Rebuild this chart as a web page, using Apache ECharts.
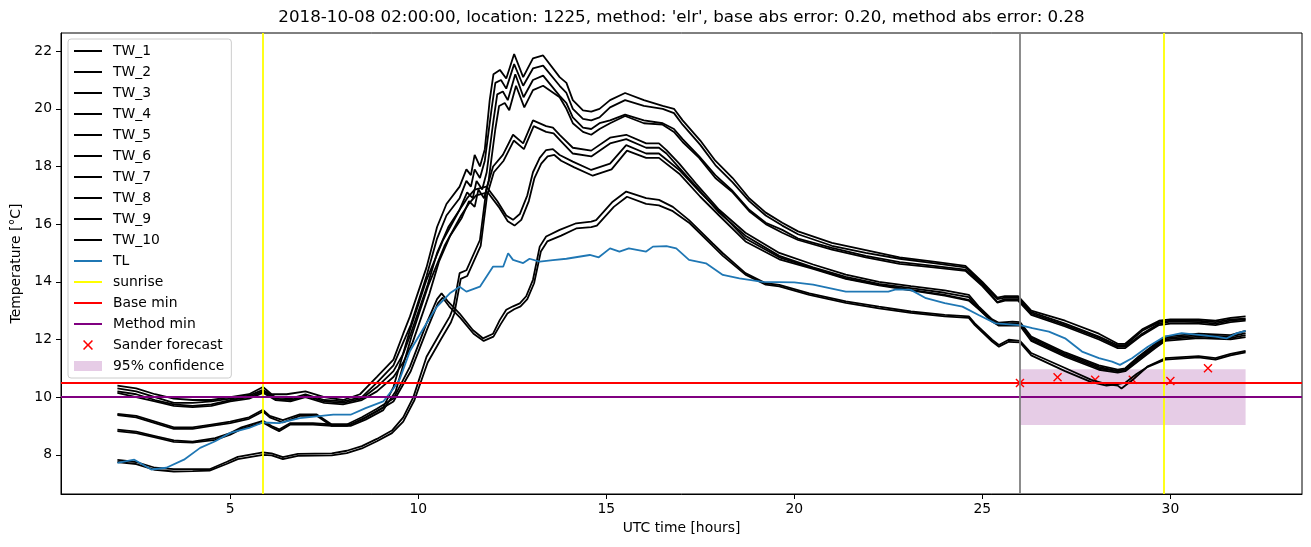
<!DOCTYPE html>
<html>
<head>
<meta charset="utf-8">
<script src="https://cdn.jsdelivr.net/npm/echarts@6/dist/echarts.min.js"></script>
<style>
  html, body { margin: 0; padding: 0; background: #fff; }
  #chart { width: 1311px; height: 547px; }
</style>
</head>
<body>
<div id="chart"></div>
<script>
// ---- data: [hour, temperature] ----
const tw1 = [[2,10.4],[2.5,10.3],[3,10.1],[3.5,9.95],[4,9.9],[4.5,9.9],[5,10.0],[5.5,10.1],[5.87,10.35],[6.1,10.1],[6.5,10.1],[7,10.2],[7.5,10.0],[8,9.9],[8.45,10.1],[8.9,10.7],[9.34,11.3],[9.6,12.2],[9.78,12.8],[10.22,14.5],[10.5,15.9],[10.75,16.7],[11.1,17.3],[11.28,17.9],[11.4,17.7],[11.5,18.4],[11.64,18.0],[11.77,18.6],[11.9,20.3],[12.0,21.2],[12.17,21.35],[12.34,21.05],[12.55,21.9],[12.79,21.1],[13.05,21.75],[13.32,21.85],[13.76,21.1],[13.94,20.9],[14.11,20.3],[14.38,19.95],[14.6,19.9],[14.82,20.0],[15.1,20.3],[15.5,20.55],[16.0,20.3],[16.5,20.1],[16.8,20.0],[17.03,19.6],[17.5,18.9],[17.9,18.2],[18.36,17.6],[18.8,16.9],[19.24,16.4],[19.68,16.05],[20.1,15.75],[21.0,15.35],[21.9,15.1],[22.8,14.85],[23.7,14.7],[24.55,14.55],[25.0,14.0],[25.4,13.45],[25.6,13.5],[25.95,13.5],[26.3,13.0],[27.2,12.65],[28.1,12.2],[28.6,11.85],[28.8,11.85],[29.25,12.35],[29.7,12.65],[30.0,12.7],[30.75,12.7],[31.2,12.65],[31.6,12.75],[32,12.8]];
const tw2 = [[2,10.3],[2.5,10.2],[3,10.0],[3.5,9.8],[4,9.8],[4.5,9.85],[5,9.95],[5.5,10.05],[5.87,10.25],[6.2,10.0],[6.6,9.95],[7,10.1],[7.5,9.9],[8,9.85],[8.5,10.0],[8.9,10.5],[9.34,11.1],[9.6,11.9],[9.8,12.5],[10.22,14.2],[10.5,15.5],[10.75,16.3],[11.1,16.9],[11.28,17.5],[11.4,17.3],[11.5,17.9],[11.64,17.6],[11.77,18.2],[11.95,20.0],[12.05,20.9],[12.2,21.0],[12.34,20.7],[12.55,21.55],[12.79,20.8],[13.05,21.4],[13.32,21.5],[13.76,20.8],[13.94,20.55],[14.11,20.0],[14.38,19.65],[14.6,19.6],[14.82,19.7],[15.1,20.05],[15.5,20.3],[16.0,20.1],[16.5,20.0],[16.8,19.85],[17.03,19.45],[17.5,18.75],[17.9,18.05],[18.36,17.45],[18.8,16.8],[19.24,16.3],[19.68,15.95],[20.1,15.65],[21.0,15.25],[21.9,15.0],[22.8,14.8],[23.7,14.65],[24.55,14.5],[25.0,13.95],[25.4,13.4],[25.6,13.45],[25.95,13.45],[26.3,12.95],[27.2,12.55],[28.1,12.1],[28.6,11.8],[28.8,11.8],[29.25,12.3],[29.7,12.6],[30.0,12.65],[30.75,12.65],[31.2,12.6],[31.6,12.7],[32,12.72]];
const tw3 = [[2,10.2],[2.5,10.1],[3,9.9],[3.5,9.75],[4,9.7],[4.5,9.75],[5,9.9],[5.5,10.0],[5.87,10.2],[6.2,9.95],[6.6,9.9],[7,10.05],[7.5,9.85],[8,9.8],[8.5,9.95],[8.9,10.35],[9.34,10.9],[9.6,11.5],[9.8,12.2],[10.25,13.9],[10.5,15.0],[10.8,15.9],[11.1,16.5],[11.3,17.1],[11.45,16.9],[11.55,17.5],[11.7,17.2],[11.82,17.8],[12.0,19.6],[12.1,20.5],[12.25,20.6],[12.38,20.3],[12.58,21.2],[12.8,20.4],[13.05,21.0],[13.32,21.15],[13.76,20.45],[13.94,20.2],[14.11,19.7],[14.38,19.35],[14.6,19.3],[14.82,19.5],[15.1,19.6],[15.5,19.8],[16.0,19.6],[16.5,19.5],[16.8,19.3],[17.03,18.95],[17.47,18.35],[17.9,17.7],[18.36,17.15],[18.8,16.5],[19.24,16.05],[19.68,15.8],[20.1,15.5],[21.0,15.18],[21.9,14.9],[22.8,14.68],[23.7,14.55],[24.55,14.42],[25.0,13.9],[25.4,13.3],[25.6,13.4],[25.95,13.4],[26.3,12.9],[27.2,12.5],[28.1,12.05],[28.6,11.75],[28.8,11.75],[29.25,12.2],[29.7,12.55],[30.0,12.62],[30.75,12.6],[31.2,12.55],[31.6,12.65],[32,12.7]];
const tw4 = [[2,10.15],[2.5,10.0],[3,9.85],[3.5,9.7],[4,9.65],[4.5,9.7],[5,9.85],[5.5,9.95],[5.87,10.15],[6.2,9.9],[6.6,9.85],[7,10.0],[7.5,9.8],[8,9.75],[8.5,9.9],[8.9,10.2],[9.34,10.7],[9.6,11.2],[9.85,11.9],[10.3,13.6],[10.55,14.7],[10.85,15.6],[11.15,16.2],[11.35,16.8],[11.5,16.6],[11.6,17.2],[11.75,16.9],[11.87,17.5],[12.05,19.3],[12.15,20.1],[12.3,20.2],[12.42,19.95],[12.6,20.8],[12.82,20.05],[13.05,20.65],[13.32,20.8],[13.76,20.4],[13.94,20.0],[14.11,19.5],[14.38,19.2],[14.6,19.1],[14.82,19.3],[15.1,19.5],[15.5,19.75],[16.0,19.5],[16.5,19.45],[16.8,19.2],[17.03,18.85],[17.47,18.3],[17.9,17.6],[18.36,17.1],[18.8,16.45],[19.24,16.0],[19.68,15.7],[20.1,15.45],[21.0,15.12],[21.9,14.85],[22.8,14.62],[23.7,14.5],[24.55,14.38],[25.0,13.85],[25.4,13.28],[25.6,13.35],[25.95,13.35],[26.3,12.85],[27.2,12.45],[28.1,12.0],[28.6,11.7],[28.8,11.7],[29.25,12.15],[29.7,12.5],[30.0,12.55],[30.75,12.55],[31.2,12.5],[31.6,12.6],[32,12.65]];
const tw5 = [[2,9.42],[2.5,9.35],[3,9.15],[3.5,8.95],[4,8.95],[4.5,9.05],[5,9.15],[5.5,9.3],[5.87,9.56],[6.05,9.35],[6.4,9.2],[6.85,9.4],[7.3,9.4],[7.7,9.05],[8.2,9.05],[8.6,9.3],[9.07,9.65],[9.34,10.35],[9.78,12.33],[10.22,14.07],[10.66,15.45],[11.1,16.5],[11.3,16.9],[11.5,17.2],[11.81,17.3],[12.1,16.8],[12.34,16.3],[12.52,16.15],[12.7,16.35],[12.9,17.0],[13.05,17.8],[13.23,18.3],[13.4,18.57],[13.58,18.6],[13.76,18.4],[14.11,18.17],[14.6,17.88],[15.1,18.1],[15.53,18.74],[16.06,18.45],[16.4,18.45],[16.94,17.88],[17.5,17.1],[18.0,16.45],[18.7,15.5],[19.6,14.85],[20.5,14.47],[21.37,14.12],[22.25,13.9],[23.1,13.72],[24.0,13.55],[24.64,13.37],[24.9,13.1],[25.26,12.65],[25.44,12.5],[25.8,12.5],[26.0,12.5],[26.3,12.0],[27.2,11.45],[28.1,11.0],[28.6,10.9],[28.8,10.95],[29.15,11.3],[29.6,11.75],[29.86,12.0],[30.75,12.1],[31.6,12.05],[32,12.15]];
const tw6 = [[2,9.38],[2.5,9.3],[3,9.1],[3.5,8.9],[4,8.9],[4.5,9.0],[5,9.1],[5.5,9.25],[5.87,9.5],[6.05,9.3],[6.4,9.12],[6.85,9.35],[7.3,9.35],[7.7,9.0],[8.2,9.0],[8.6,9.22],[9.07,9.55],[9.4,10.2],[9.82,12.1],[10.26,13.85],[10.7,15.25],[11.14,16.3],[11.34,16.7],[11.54,17.0],[11.85,17.1],[12.14,16.6],[12.38,16.1],[12.56,15.95],[12.74,16.15],[12.94,16.8],[13.09,17.6],[13.27,18.1],[13.44,18.35],[13.62,18.4],[13.8,18.2],[14.15,17.97],[14.64,17.68],[15.14,17.9],[15.55,18.55],[16.06,18.3],[16.4,18.3],[16.94,17.75],[17.5,16.95],[18.0,16.3],[18.7,15.4],[19.6,14.78],[20.5,14.45],[21.37,14.1],[22.25,13.88],[23.1,13.7],[24.0,13.52],[24.64,13.35],[24.9,13.05],[25.26,12.62],[25.44,12.48],[25.8,12.48],[26.0,12.48],[26.3,11.95],[27.2,11.4],[28.1,10.95],[28.6,10.85],[28.8,10.9],[29.15,11.25],[29.6,11.7],[29.86,11.95],[30.75,12.05],[31.6,12.0],[32,12.08]];
const tw7 = [[2,8.87],[2.5,8.8],[3,8.65],[3.5,8.5],[4,8.46],[4.6,8.58],[5.0,8.75],[5.3,8.95],[5.87,9.18],[6.1,9.0],[6.3,8.88],[6.6,9.1],[7.2,9.1],[7.7,9.05],[8.1,9.05],[8.5,9.3],[8.9,9.6],[9.34,9.95],[9.78,11.06],[10.22,12.56],[10.5,13.4],[10.62,13.6],[10.8,13.3],[11.1,12.9],[11.45,12.33],[11.72,12.04],[11.99,12.2],[12.17,12.68],[12.34,13.03],[12.52,13.15],[12.7,13.25],[12.87,13.5],[13.05,14.07],[13.23,15.22],[13.4,15.57],[13.76,15.8],[14.2,16.03],[14.6,16.09],[14.73,16.14],[15.17,16.78],[15.53,17.13],[16.06,16.9],[16.4,16.84],[16.77,16.6],[17.2,16.14],[17.83,15.33],[18.1,14.99],[18.7,14.3],[19.24,13.95],[19.6,13.89],[20.4,13.6],[21.37,13.32],[22.25,13.14],[23.1,12.97],[24.0,12.85],[24.64,12.8],[24.8,12.56],[25.26,11.99],[25.44,11.81],[25.7,11.99],[26.0,11.95],[26.3,11.53],[27.2,11.01],[27.9,10.6],[28.3,10.45],[28.6,10.4],[28.7,10.3],[29.0,10.6],[29.4,11.07],[29.86,11.35],[30.75,11.42],[31.2,11.35],[31.6,11.5],[32,11.6]];
const tw8 = [[2,8.82],[2.5,8.75],[3,8.6],[3.5,8.45],[4,8.42],[4.6,8.52],[5.0,8.7],[5.3,8.9],[5.87,9.12],[6.1,8.95],[6.3,8.82],[6.6,9.05],[7.2,9.05],[7.7,9.0],[8.1,9.0],[8.5,9.22],[8.9,9.5],[9.34,9.85],[9.8,10.9],[10.25,12.4],[10.52,13.25],[10.65,13.45],[10.82,13.15],[11.12,12.75],[11.47,12.2],[11.74,11.95],[12.0,12.1],[12.2,12.55],[12.37,12.9],[12.55,13.05],[12.72,13.15],[12.9,13.4],[13.08,13.95],[13.26,15.05],[13.43,15.4],[13.8,15.6],[14.2,15.85],[14.6,15.9],[14.75,15.95],[15.2,16.6],[15.55,16.95],[16.06,16.7],[16.4,16.65],[16.77,16.45],[17.2,16.05],[17.83,15.25],[18.1,14.9],[18.7,14.25],[19.24,13.9],[19.6,13.84],[20.4,13.55],[21.37,13.27],[22.25,13.08],[23.1,12.92],[24.0,12.8],[24.64,12.75],[24.8,12.5],[25.26,11.93],[25.44,11.75],[25.7,11.92],[26.0,11.9],[26.3,11.45],[27.2,10.9],[27.9,10.52],[28.3,10.4],[28.6,10.45],[28.8,10.5],[29.1,10.8],[29.4,11.05],[29.86,11.3],[30.75,11.38],[31.2,11.3],[31.6,11.45],[32,11.55]];
const tw9 = [[2,7.82],[2.5,7.75],[3,7.55],[3.5,7.5],[4,7.5],[4.45,7.5],[4.9,7.75],[5.2,7.93],[5.87,8.08],[6.1,8.05],[6.4,7.92],[6.8,8.03],[7.7,8.05],[8.1,8.14],[8.5,8.3],[8.9,8.55],[9.3,8.84],[9.6,9.3],[9.87,10.0],[10.22,11.4],[10.57,12.2],[10.84,12.8],[10.93,13.1],[11.1,14.3],[11.28,14.4],[11.64,15.45],[11.81,17.2],[11.99,18.0],[12.25,18.4],[12.52,19.1],[12.79,18.8],[13.05,19.6],[13.4,19.4],[13.58,19.35],[13.76,19.1],[14.11,18.65],[14.6,18.55],[15.1,19.0],[15.53,19.1],[16.06,18.8],[16.4,18.8],[16.6,18.57],[16.94,18.1],[17.39,17.4],[18.0,16.5],[18.7,15.7],[19.6,15.0],[20.5,14.6],[21.37,14.25],[22.25,14.0],[23.1,13.85],[24.0,13.7],[24.64,13.55],[24.9,13.15],[25.26,12.7],[25.44,12.58],[25.8,12.62],[26.0,12.6],[26.3,12.1],[27.2,11.55],[28.1,11.1],[28.6,10.95],[28.8,11.0],[29.15,11.4],[29.6,11.85],[29.86,12.1],[30.75,12.2],[31.6,12.15],[32,12.3]];
const tw10 = [[2,7.75],[2.5,7.68],[3,7.48],[3.5,7.42],[4,7.43],[4.45,7.45],[4.9,7.68],[5.2,7.85],[5.87,8.0],[6.1,7.98],[6.4,7.85],[6.8,7.96],[7.7,7.98],[8.1,8.06],[8.5,8.22],[8.9,8.47],[9.3,8.75],[9.6,9.15],[9.9,9.9],[10.25,11.2],[10.6,12.0],[10.87,12.6],[10.96,12.9],[11.13,14.1],[11.3,14.2],[11.66,15.25],[11.83,17.0],[12.01,17.8],[12.27,18.2],[12.54,18.9],[12.81,18.6],[13.07,19.4],[13.4,19.2],[13.6,19.15],[13.78,18.9],[14.11,18.45],[14.6,18.35],[15.1,18.8],[15.53,18.95],[16.06,18.65],[16.4,18.65],[16.6,18.45],[16.94,17.95],[17.39,17.3],[18.0,16.4],[18.7,15.6],[19.6,14.9],[20.5,14.5],[21.37,14.17],[22.25,13.93],[23.1,13.78],[24.0,13.62],[24.64,13.47],[24.9,13.08],[25.26,12.63],[25.44,12.52],[25.8,12.56],[26.0,12.55],[26.3,12.05],[27.2,11.5],[28.1,11.05],[28.6,10.9],[28.8,10.95],[29.15,11.35],[29.6,11.8],[29.86,12.05],[30.75,12.15],[31.6,12.1],[32,12.22]];
const tl = [[2,7.72],[2.45,7.83],[2.9,7.49],[3.3,7.55],[3.77,7.83],[4.2,8.24],[4.6,8.47],[5.0,8.76],[5.5,8.93],[5.87,9.12],[6.3,9.1],[6.85,9.27],[7.74,9.39],[8.2,9.39],[8.6,9.62],[9.07,9.85],[9.34,10.3],[9.5,10.6],[9.78,11.6],[10.22,12.56],[10.5,13.14],[10.84,13.6],[11.1,13.83],[11.28,13.66],[11.64,13.83],[11.99,14.53],[12.26,14.53],[12.39,14.99],[12.52,14.76],[12.79,14.65],[12.96,14.8],[13.23,14.7],[13.58,14.75],[13.94,14.8],[14.56,14.93],[14.8,14.85],[15.1,15.16],[15.35,15.05],[15.6,15.16],[16.06,15.05],[16.24,15.22],[16.6,15.24],[16.86,15.16],[17.2,14.76],[17.65,14.64],[18.1,14.24],[18.54,14.12],[19.16,14.0],[20.0,13.98],[20.5,13.9],[21.37,13.66],[22.5,13.66],[22.7,13.74],[23.1,13.72],[23.5,13.43],[24.0,13.26],[24.47,13.14],[24.9,12.85],[25.35,12.56],[26.0,12.5],[26.33,12.39],[26.77,12.27],[27.2,12.04],[27.65,11.58],[28.1,11.35],[28.45,11.23],[28.66,11.12],[28.98,11.35],[29.4,11.75],[29.85,12.1],[30.3,12.22],[30.75,12.16],[31.2,12.1],[31.5,12.04],[31.77,12.22],[32,12.3]];

const twNames = ['TW_1','TW_2','TW_3','TW_4','TW_5','TW_6','TW_7','TW_8','TW_9','TW_10'];
const twSeries = [tw1, tw2, tw3, tw4, tw5, tw6, tw7, tw8, tw9, tw10];

const sunriseHours = [5.87, 29.83];
const baseMin = 10.5;
const methodMin = 10.0;
const nowHour = 26;
const forecastHours = [26, 27, 28, 29, 30, 31];
const forecastValues = [10.49, 10.69, 10.6, 10.6, 10.56, 11.0];
const confidenceBox = [26, 32, 9.03, 10.97]; // x0, x1, y0, y1

const xTicks = [5, 10, 15, 20, 25, 30];
const yTicks = [8, 10, 12, 14, 16, 18, 20, 22];

const titleText = "2018-10-08 02:00:00, location: 1225, method: 'elr', base abs error: 0.20, method abs error: 0.28";

// ---- chart ----
const FONT = 'DejaVu Sans';
const xMark = 'path://M0,1.1 L1.1,0 L5,3.9 L8.9,0 L10,1.1 L6.1,5 L10,8.9 L8.9,10 L5,6.1 L1.1,10 L0,8.9 L3.9,5 Z';

const chart = echarts.init(document.getElementById('chart'), null, { renderer: 'canvas' });

const series = [];
twSeries.forEach(function (d, i) {
    series.push({
        name: twNames[i],
        type: 'line',
        data: d,
        symbol: 'none',
        lineStyle: { color: '#000', width: 1.8 },
        itemStyle: { color: '#000' }
    });
});
series.push({
    name: 'TL',
    type: 'line',
    data: tl,
    symbol: 'none',
    lineStyle: { color: '#1f77b4', width: 1.8 },
    itemStyle: { color: '#1f77b4' }
});
series.push({
    name: '95% confidence',
    type: 'custom',
    data: [confidenceBox],
    encode: { x: [0, 1], y: [2, 3] },
    itemStyle: { color: 'rgba(128,0,128,0.2)' },
    renderItem: function (params, api) {
        const p0 = api.coord([api.value(0), api.value(3)]);
        const p1 = api.coord([api.value(1), api.value(2)]);
        return {
            type: 'rect',
            shape: { x: p0[0], y: p0[1], width: p1[0] - p0[0], height: p1[1] - p0[1] },
            style: { fill: 'rgba(128,0,128,0.2)' }
        };
    }
});
function refLine(name, color, lines) {
    return {
        name: name,
        type: 'line',
        data: [],
        symbol: 'none',
        lineStyle: { color: color, width: 1.8 },
        itemStyle: { color: color },
        markLine: {
            silent: true,
            symbol: ['none', 'none'],
            label: { show: false },
            lineStyle: { color: color, width: 1.8, type: 'solid' },
            data: lines
        }
    };
}
series.push(refLine('sunrise', '#ffff00', sunriseHours.map(function (h) { return { xAxis: h }; })));
series.push(refLine('Base min', '#ff0000', [{ yAxis: baseMin }]));
series.push(refLine('Method min', '#800080', [{ yAxis: methodMin }]));
series.push(refLine('now', '#808080', [{ xAxis: nowHour }]));
series.push({
    name: 'Sander forecast',
    type: 'scatter',
    data: forecastHours.map(function (h, i) { return [h, forecastValues[i]]; }),
    symbol: xMark,
    symbolSize: 9,
    itemStyle: { color: '#ff0000', opacity: 1 }
});

// line entries in the legend: plain line, no dot
const lineItem = function (name) { return { name: name, itemStyle: { opacity: 0 } }; };

chart.setOption({
    animation: false,
    backgroundColor: '#fff',
    textStyle: { fontFamily: FONT },
    grid: {
        left: 61, right: 9, top: 33, bottom: 53,
        show: true, borderColor: '#000', borderWidth: 1, backgroundColor: 'transparent'
    },
    graphic: [{
        type: 'text',
        x: 681.5, y: 18,
        style: {
            text: titleText, fontFamily: FONT, fontSize: 16.7, fill: '#000',
            textAlign: 'center', textVerticalAlign: 'middle'
        }
    }],
    legend: {
        data: twNames.concat(['TL', 'sunrise', 'Base min', 'Method min']).map(lineItem).concat([
            { name: 'Sander forecast', icon: xMark, itemStyle: { color: '#ff0000', opacity: 1 } },
            { name: '95% confidence', icon: 'rect' }
        ]),
        orient: 'vertical',
        left: 68, top: 39,
        itemWidth: 28, itemHeight: 10, itemGap: 7,
        padding: [5, 7, 5, 5],
        backgroundColor: 'rgba(255,255,255,0.8)',
        borderColor: '#cccccc', borderWidth: 1, borderRadius: 3,
        selectedMode: false,
        textStyle: { fontFamily: FONT, fontSize: 13.9, color: '#000', lineHeight: 14, padding: [0, 0, 0, 6] }
    },
    xAxis: {
        type: 'value', min: 0.5, max: 33.5,
        name: 'UTC time [hours]', nameLocation: 'middle', nameGap: 27,
        nameTextStyle: { fontFamily: FONT, fontSize: 13.9, color: '#000' },
        splitLine: { show: false },
        axisLine: { show: true, lineStyle: { color: '#000', width: 1 } },
        axisTick: { show: true, length: 5, customValues: xTicks, lineStyle: { color: '#000' } },
        axisLabel: { customValues: xTicks, margin: 8, fontFamily: FONT, fontSize: 13.9, color: '#000' }
    },
    yAxis: {
        type: 'value', min: 6.64, max: 22.63,
        name: 'Temperature [°C]', nameLocation: 'middle', nameGap: 34, nameRotate: 90,
        nameTextStyle: { fontFamily: FONT, fontSize: 13.9, color: '#000' },
        splitLine: { show: false },
        axisLine: { show: true, lineStyle: { color: '#000', width: 1 } },
        axisTick: { show: true, length: 5, customValues: yTicks, lineStyle: { color: '#000' } },
        axisLabel: { customValues: yTicks, margin: 9, fontFamily: FONT, fontSize: 13.9, color: '#000' }
    },
    series: series
});
</script>
</body>
</html>
